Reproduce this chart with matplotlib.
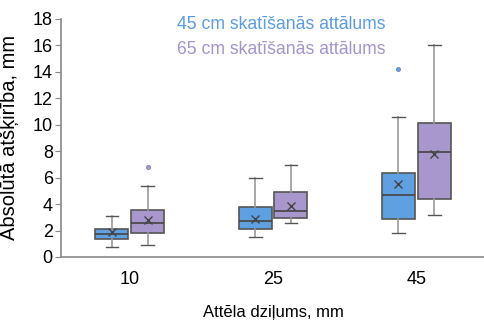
import matplotlib.pyplot as plt

plt.rcParams['font.family'] = ['Liberation Sans', 'DejaVu Sans']

depths = ['10', '25', '45']
series = ['45 cm skatīšanās attālums', '65 cm skatīšanās attālums']
colors = ['#5fa0e0', '#a797cd']
text_colors = ['#5b9bdf', '#a394cc']

# per depth: whisker low, Q1, median, Q3, whisker high, mean, outliers
blue_lo = [0.75, 1.5, 1.8]
blue_q1 = [1.35, 2.15, 2.9]
blue_med = [1.75, 2.75, 4.7]
blue_q3 = [2.15, 3.75, 6.35]
blue_hi = [3.1, 6.0, 10.55]
blue_mean = [1.85, 2.9, 5.5]
blue_out = [[], [], [14.2]]

purple_lo = [0.9, 2.55, 3.15]
purple_q1 = [1.8, 2.95, 4.35]
purple_med = [2.55, 3.5, 7.95]
purple_q3 = [3.55, 4.9, 10.1]
purple_hi = [5.4, 6.95, 16.05]
purple_mean = [2.8, 3.85, 7.8]
purple_out = [[6.8], [], []]

fig = plt.figure(figsize=(4.85, 3.2), dpi=100)
ax = fig.add_axes([0.126, 0.197, 0.874, 0.744])


def stats(lo, q1, med, q3, hi, mean, out):
    return [dict(whislo=lo[i], q1=q1[i], med=med[i], q3=q3[i], whishi=hi[i],
                 mean=mean[i], fliers=out[i]) for i in range(len(lo))]


groups = [
    stats(blue_lo, blue_q1, blue_med, blue_q3, blue_hi, blue_mean, blue_out),
    stats(purple_lo, purple_q1, purple_med, purple_q3, purple_hi, purple_mean, purple_out),
]
offsets = [-0.125, 0.125]

for k, st in enumerate(groups):
    pos = [i + offsets[k] for i in range(len(depths))]
    ax.bxp(st, positions=pos, widths=0.23, patch_artist=True, showmeans=True,
           boxprops=dict(facecolor=colors[k], edgecolor='#555555', linewidth=1.2),
           medianprops=dict(color='#444444', linewidth=1.2),
           whiskerprops=dict(color='#9a9a9a', linewidth=1.2),
           capprops=dict(color='#555555', linewidth=1.0),
           capwidths=0.09,
           meanprops=dict(marker='x', markeredgecolor='#444444', markersize=6,
                          markeredgewidth=1.0),
           flierprops=dict(marker='o', markersize=3, markerfacecolor=colors[k],
                           markeredgecolor='#6a7fa8', markeredgewidth=0.5))

ax.set_xlim(-0.48, 2.48)
ax.set_ylim(0, 18)
ax.set_yticks(range(0, 19, 2))
ax.set_xticks(range(len(depths)))
ax.set_xticklabels(depths)
ax.tick_params(axis='x', length=0, labelsize=13, pad=10)
ax.tick_params(axis='y', length=4, color='#888888', labelsize=13, pad=2)

for s in ['top', 'right']:
    ax.spines[s].set_visible(False)
for s in ['left', 'bottom']:
    ax.spines[s].set_color('#888888')
    ax.spines[s].set_linewidth(1.2)

ax.set_xlabel('Attēla dziļums, mm', fontsize=12, labelpad=12)
ax.set_ylabel('Absolūtā atšķirība, mm', fontsize=14.5, labelpad=4)
ax.yaxis.set_label_coords(-0.1, 0.5)

ax.text(0.273, 0.975, series[0], transform=ax.transAxes, color=text_colors[0],
        fontsize=12.7, va='center')
ax.text(0.273, 0.87, series[1], transform=ax.transAxes, color=text_colors[1],
        fontsize=12.7, va='center')

fig.savefig('out.png', dpi=100)
